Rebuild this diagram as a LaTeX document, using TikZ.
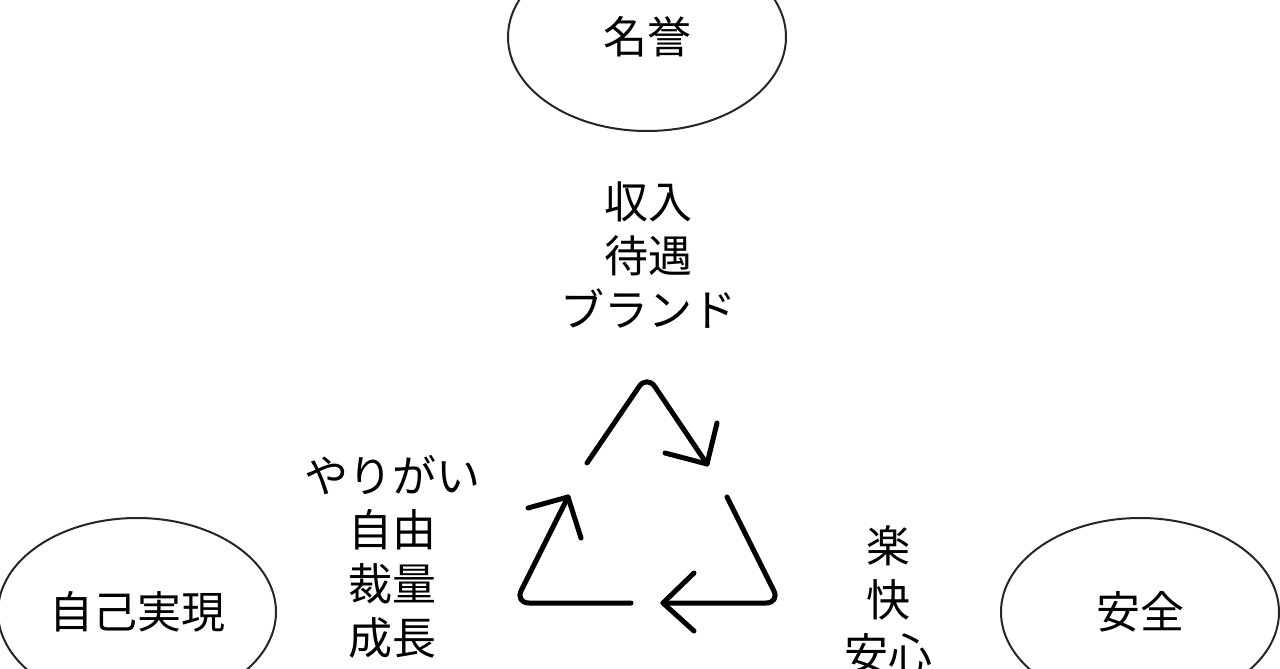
\documentclass[tikz,border=0pt]{standalone}
\usepackage{fontspec}
\setmainfont{Noto Sans CJK JP}
\usetikzlibrary{shapes.geometric}
\begin{document}
\begin{tikzpicture}[x=1pt,y=-1pt,
  oval/.style={ellipse,draw=black!85,line width=2pt,minimum width=278pt,minimum height=188pt,inner sep=0pt,font=\fontsize{44}{54}\selectfont},
  lbl/.style={align=center,font=\fontsize{44}{54}\selectfont,inner sep=0pt},
  cyc/.style={line width=5pt,line cap=round,line join=round,rounded corners=14pt},
  barb/.style={line width=5pt,line cap=round,line join=round}]
\useasboundingbox (0,0) rectangle (1280,669);
\begin{scope}
\clip (0,0) rectangle (1280,669);
\node[oval] (meiyo) at (647,37) {名誉};
\node[oval] (jiko) at (137,612) {自己実現};
\node[oval] (anzen) at (1140,612) {安全};
\end{scope}
\node[lbl] (top) at (648,255) {収入\\待遇\\ブランド};
\node[lbl] (left) at (392,557) {やりがい\\自由\\裁量\\成長};
\node[lbl] (right) at (888,600) {楽\\快\\安心};
% recycle symbol
\coordinate (a1) at (587,463);
\coordinate (apex) at (647,375);
\coordinate (t1) at (707,464);
\coordinate (b1a) at (665,453);
\coordinate (b1b) at (717,423);
\coordinate (a2) at (727,497);
\coordinate (c2) at (780,603);
\coordinate (t2) at (663,603);
\coordinate (b2a) at (694,573);
\coordinate (b2b) at (694,631);
\coordinate (a3) at (631,603);
\coordinate (c3) at (515,603);
\coordinate (t3) at (568,497);
\coordinate (b3a) at (528,508);
\coordinate (b3b) at (581,538);
\draw[cyc] (a1) -- (apex) -- (t1);
\draw[barb] (b1a) -- (t1) -- (b1b);
\draw[cyc] (a2) -- (c2) -- (t2);
\draw[barb] (b2a) -- (t2) -- (b2b);
\draw[cyc] (a3) -- (c3) -- (t3);
\draw[barb] (b3a) -- (t3) -- (b3b);
\end{tikzpicture}
\end{document}
